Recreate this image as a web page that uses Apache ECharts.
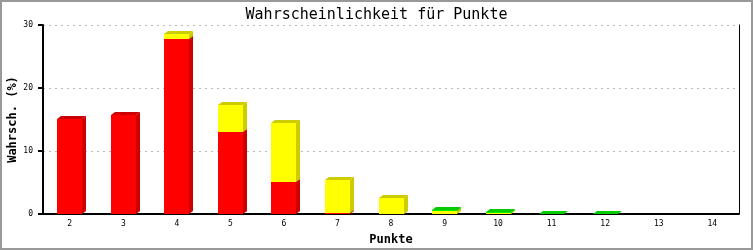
<!DOCTYPE html>
<html>
<head>
<meta charset="utf-8">
<script src="https://cdn.jsdelivr.net/npm/echarts@6/dist/echarts.min.js"></script>
<style>html,body{margin:0;padding:0;background:#fff}#c{width:753px;height:250px}</style>
</head>
<body>
<div id="c"></div>
<script>
var categories = ['2','3','4','5','6','7','8','9','10','11','12','13','14'];
var redValues    = [15.1, 15.7, 27.7, 13.0, 5.1, 0.2, 0, 0, 0, 0, 0, 0, 0];
var yellowValues = [0, 0, 0.9, 4.3, 9.4, 5.2, 2.6, 0.5, 0.15, 0, 0, 0, 0];
var greenValues  = [0, 0, 0, 0, 0, 0, 0, 0.1, 0.1, 0.05, 0.05, 0, 0];
var yTicks = [0, 10, 20, 30];

var layers = [
  {name: 'rot', values: redValues, front: '#ff0000', dark: '#cc0000'},
  {name: 'gelb', values: yellowValues, front: '#ffff00', dark: '#cccc00'},
  {name: 'grün', values: greenValues, front: '#00ee00', dark: '#00cc00'}
];

var cum = categories.map(function(){return 0;});
var series = layers.map(function(L){
  var data = [];
  L.values.forEach(function(v, i){
    if (v > 0) data.push([i, cum[i], cum[i] + v]);
    cum[i] += v;
  });
  return {
    type: 'custom',
    name: L.name,
    data: data,
    encode: {x: 0, y: [1, 2]},
    renderItem: function(params, api){
      var i = api.value(0);
      var pb = api.coord([i, api.value(1)]);
      var pt = api.coord([i, api.value(2)]);
      var cw = api.size([1, 0])[0];
      var w = Math.round(cw * 0.47);
      var x = Math.round(pb[0] - w / 2);
      var yb = Math.round(pb[1]);
      var yt = Math.round(pt[1]);
      var dx = 4, dy = 3;
      return {
        type: 'group',
        children: [
          {type: 'polygon', shape: {points: [[x + w, yt], [x + w + dx, yt - dy], [x + w + dx, yb - dy], [x + w, yb]]}, style: {fill: L.dark}},
          {type: 'polygon', shape: {points: [[x, yt], [x + dx, yt - dy], [x + w + dx, yt - dy], [x + w, yt]]}, style: {fill: L.dark}},
          {type: 'rect', shape: {x: x, y: yt, width: w, height: Math.max(yb - yt, 0)}, style: {fill: L.front}}
        ]
      };
    }
  };
});

var mono = '"DejaVu Sans Mono", "Liberation Mono", monospace';
var chart = echarts.init(document.getElementById('c'), null, {renderer: 'canvas'});
chart.setOption({
  animation: false,
  backgroundColor: '#fff',
  title: {
    text: 'Wahrscheinlichkeit für Punkte',
    left: 'center', top: 3,
    textStyle: {fontFamily: mono, fontSize: 15, fontWeight: 'normal', color: '#000'}
  },
  grid: {left: 43, right: 14, top: 25, bottom: 36, containLabel: false, outerBoundsMode: 'none'},
  xAxis: {
    type: 'category',
    data: categories,
    name: 'Punkte',
    nameLocation: 'middle',
    nameGap: 20,
    nameMoveOverlap: false,
    nameTextStyle: {fontFamily: mono, fontSize: 12, fontWeight: 'bold', color: '#000'},
    axisLine: {lineStyle: {color: '#000', width: 2}},
    axisTick: {show: false},
    axisLabel: {fontFamily: mono, fontSize: 8, color: '#000', margin: 6}
  },
  yAxis: [{
    type: 'value',
    min: yTicks[0], max: yTicks[yTicks.length - 1], interval: 10,
    name: 'Wahrsch. (%)',
    nameLocation: 'middle',
    nameGap: 24,
    nameMoveOverlap: false,
    nameTextStyle: {fontFamily: mono, fontSize: 12, fontWeight: 'bold', color: '#000'},
    axisLine: {show: true, lineStyle: {color: '#000', width: 2}},
    axisTick: {show: true, length: 5, lineStyle: {color: '#000', width: 2}},
    axisLabel: {fontFamily: mono, fontSize: 8, color: '#000', margin: 10},
    splitLine: {show: true, lineStyle: {color: '#bbb', type: [2, 4], width: 1}}
  }, {
    type: 'value',
    position: 'right',
    min: yTicks[0], max: yTicks[yTicks.length - 1], interval: 10,
    axisLine: {show: true, lineStyle: {color: '#000', width: 1}},
    axisTick: {show: false},
    axisLabel: {show: false},
    splitLine: {show: false}
  }],
  graphic: [{
    type: 'rect', silent: true, z: 100,
    shape: {x: 1, y: 1, width: 751, height: 248},
    style: {fill: 'none', stroke: '#999', lineWidth: 2}
  }],
  series: series
});
</script>
</body>
</html>
